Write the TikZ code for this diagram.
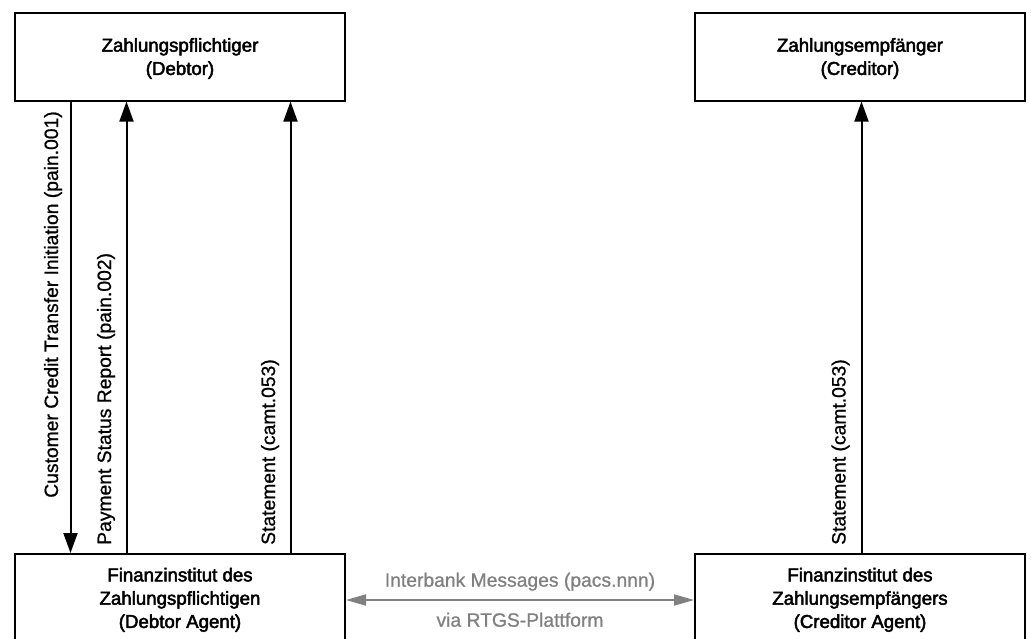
\documentclass[tikz,border=0pt]{standalone}
\usepackage{fontspec}
\setmainfont{Liberation Sans}
\newfontfamily\boxfont{Liberation Sans}[FakeBold=2.5]
\newfontfamily\lblfont{Liberation Sans}[FakeBold=0.8]
\usetikzlibrary{arrows.meta}
\newcommand{\firstline}{\rule{0pt}{17.2pt}}
\begin{document}
\begin{tikzpicture}[x=1pt,y=-1pt,
  box/.style={draw=black, line width=2pt, minimum width=330pt, minimum height=88pt,
    inner sep=0pt, align=center, font=\boxfont\fontsize{18.67}{23.3}\selectfont},
  lbl/.style={rotate=90, anchor=base west, inner sep=0pt, font=\lblfont\fontsize{19.3}{22}\selectfont},
  conn/.style={line width=2pt, -{Triangle[length=20pt,width=14pt]}},
  gconn/.style={draw=gray, line width=1.8pt,
    {Triangle[length=20pt,width=11pt]}-{Triangle[length=20pt,width=11pt]}},
  glbl/.style={text=gray, inner sep=0pt, anchor=base, font=\lblfont\fontsize{19.3}{22}\selectfont}]
\useasboundingbox (0,0) rectangle (1031,639);
\clip (0,0) rectangle (1031,639);
\fill[white] (0,0) rectangle (1031,639);

\node[box] (dbt)  at (180,56.6) {\firstline Zahlungspflichtiger\\(Debtor)};
\node[box] (cdt)  at (860,56.6) {\firstline Zahlungsempfänger\\(Creditor)};
\node[box] (dbtA) at (180,598) {\firstline Finanzinstitut des\\Zahlungspflichtigen\\(Debtor Agent)};
\node[box] (cdtA) at (860,598) {\firstline Finanzinstitut des\\Zahlungsempfängers\\(Creditor Agent)};

\coordinate (xa) at (70.5,0);
\coordinate (xb) at (126.5,0);
\coordinate (xc) at (290.5,0);
\coordinate (xd) at (861.5,0);
\coordinate (yg) at (0,600);

\draw[conn] (xa |- dbt.south) -- (xa |- dbtA.north);
\draw[conn] (xb |- dbtA.north) -- (xb |- dbt.south);
\draw[conn] (xc |- dbtA.north) -- (xc |- dbt.south);
\draw[conn] (xd |- cdtA.north) -- (xd |- cdt.south);

\node[lbl, anchor=base] (l1) at (58,304.5) {Customer Credit Transfer Initiation (pain.001)};
\node[lbl] (l2) at (111,545) {Payment Status Report (pain.002)};
\node[lbl] (l3) at (275,545) {Statement (camt.053)};
\node[lbl] (l4) at (845.5,545) {Statement (camt.053)};

\draw[gconn] (dbtA.east |- yg) -- (cdtA.west |- yg);
\node[glbl] (g1) at (520,586.7) {Interbank Messages (pacs.nnn)};
\node[glbl] (g2) at (520,626.7) {via RTGS-Plattform};
\end{tikzpicture}
\end{document}
